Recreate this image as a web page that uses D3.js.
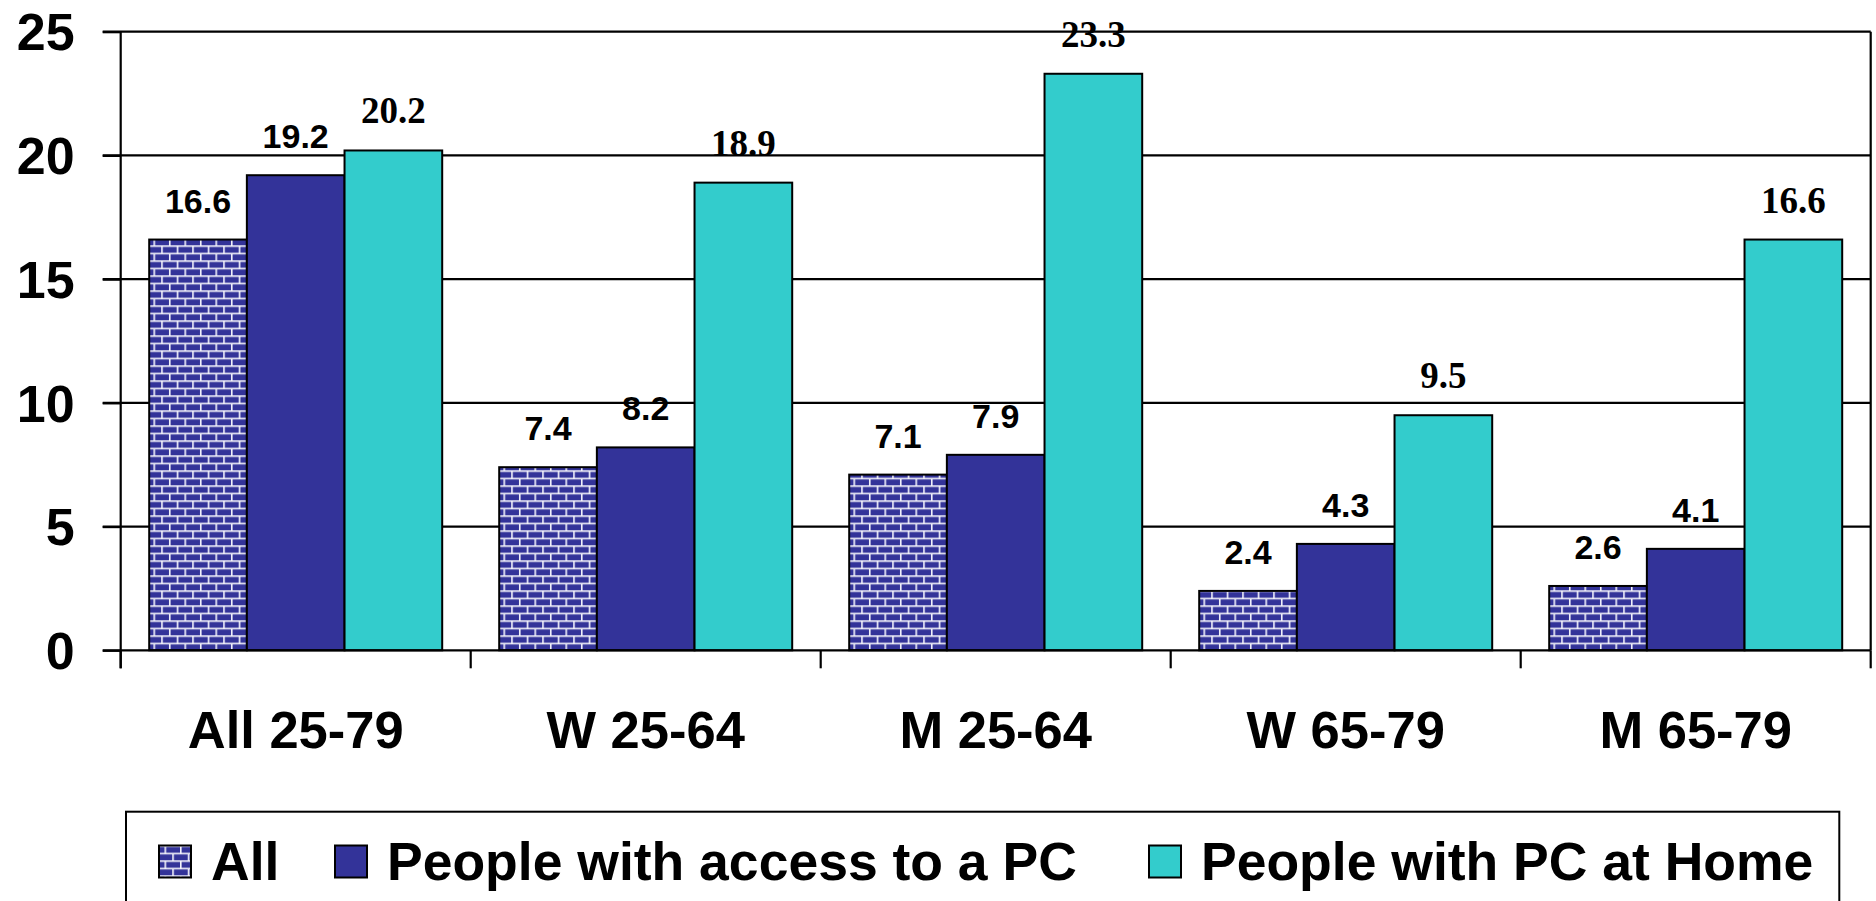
<!DOCTYPE html>
<html>
<head>
<meta charset="utf-8">
<script src="https://cdn.jsdelivr.net/npm/d3@7"></script>
<style>
  html, body { margin: 0; padding: 0; background: #fff; overflow: hidden; }
  svg { display: block; }
</style>
</head>
<body>
<svg id="chart" width="1876" height="901"></svg>
<script>
// ---- data ----
const categories = ["All 25-79", "W 25-64", "M 25-64", "W 65-79", "M 65-79"];
const seriesNames = ["All", "People with access to a PC", "People with PC at Home"];
const allValues = [16.6, 7.4, 7.1, 2.4, 2.6];
const accessValues = [19.2, 8.2, 7.9, 4.3, 4.1];
const homeValues = [20.2, 18.9, 23.3, 9.5, 16.6];
const yTicks = [0, 5, 10, 15, 20, 25];

// ---- layout ----
const W = 1876, H = 901;
const plotLeft = 120.7, plotRight = 1870.7, plotTop = 31.7, plotBottom = 650.3;
const tickLen = 18;
const sansFont = "'Liberation Sans', Arial, sans-serif";
const serifFont = "'Liberation Serif', 'Times New Roman', serif";
const blue = "#333399", teal = "#33CCCC";

const svg = d3.select("#chart");
const defs = svg.append("defs");

// brick pattern
const pat = defs.append("pattern")
  .attr("id", "brick")
  .attr("patternUnits", "userSpaceOnUse")
  .attr("x", 149).attr("y", plotBottom)
  .attr("width", 15.5).attr("height", 15);
pat.append("rect").attr("width", 15.5).attr("height", 15).attr("fill", blue);
pat.append("g").attr("stroke", "#f4f4fb").attr("stroke-width", 1.6).call(g => {
  g.append("line").attr("x1", 0).attr("x2", 15.5).attr("y1", 0.8).attr("y2", 0.8);
  g.append("line").attr("x1", 0).attr("x2", 15.5).attr("y1", 8.3).attr("y2", 8.3);
  g.append("line").attr("x1", 0.8).attr("x2", 0.8).attr("y1", 0).attr("y2", 8.3);
  g.append("line").attr("x1", 8.55).attr("x2", 8.55).attr("y1", 8.3).attr("y2", 15);
});

const series = [
  { name: seriesNames[0], values: allValues, fill: "url(#brick)", font: sansFont, size: 34 },
  { name: seriesNames[1], values: accessValues, fill: blue, font: sansFont, size: 34 },
  { name: seriesNames[2], values: homeValues, fill: teal, font: serifFont, size: 37 }
];

const y = d3.scaleLinear().domain([0, 25]).range([plotBottom, plotTop]);
const x0 = d3.scaleBand().domain(categories).range([plotLeft, plotRight]).padding(0);
const x1 = d3.scaleBand().domain(seriesNames).range([28.5, x0.bandwidth() - 28.5]).padding(0);

// gridlines
svg.append("g")
  .selectAll("line").data(yTicks.filter(t => t > 0)).join("line")
  .attr("x1", plotLeft - tickLen).attr("x2", plotRight)
  .attr("y1", d => y(d)).attr("y2", d => y(d))
  .attr("stroke", "#000").attr("stroke-width", 2.2);

// right border
svg.append("line")
  .attr("x1", plotRight).attr("x2", plotRight)
  .attr("y1", plotTop).attr("y2", plotBottom)
  .attr("stroke", "#000").attr("stroke-width", 2.2);

// bars
const groups = svg.append("g").selectAll("g").data(categories).join("g")
  .attr("transform", d => `translate(${x0(d)},0)`);

groups.each(function(cat, ci) {
  const g = d3.select(this);
  series.forEach(s => {
    const v = s.values[ci];
    g.append("rect")
      .attr("x", x1(s.name))
      .attr("y", y(v))
      .attr("width", x1.bandwidth())
      .attr("height", y(0) - y(v))
      .attr("fill", s.fill)
      .attr("stroke", "#000").attr("stroke-width", 2);
    g.append("text")
      .attr("x", x1(s.name) + x1.bandwidth() / 2)
      .attr("y", y(v) - 27)
      .attr("text-anchor", "middle")
      .attr("font-family", s.font)
      .attr("font-weight", "bold")
      .attr("font-size", s.size)
      .attr("fill", "#000")
      .text(v.toFixed(1));
  });
});

// y axis
const yAxis = d3.axisLeft(y).tickValues(yTicks).tickSize(tickLen).tickPadding(28).tickFormat(d3.format("d"));
const yG = svg.append("g").attr("transform", `translate(${plotLeft},0)`).call(yAxis);
yG.select(".domain").remove();
yG.selectAll(".tick line").attr("stroke", "#000").attr("stroke-width", 2.2);
yG.selectAll(".tick text")
  .attr("font-family", sansFont).attr("font-weight", "bold").attr("font-size", 52)
  .attr("fill", "#000").attr("dy", "0.35em");
svg.append("line")
  .attr("x1", plotLeft).attr("x2", plotLeft)
  .attr("y1", plotTop).attr("y2", plotBottom + tickLen)
  .attr("stroke", "#000").attr("stroke-width", 2.2);

// x axis
svg.append("line")
  .attr("x1", plotLeft - tickLen).attr("x2", plotRight)
  .attr("y1", plotBottom).attr("y2", plotBottom)
  .attr("stroke", "#000").attr("stroke-width", 2.2);
const boundaries = categories.map(c => x0(c)).concat([x0(categories[categories.length - 1]) + x0.bandwidth()]);
svg.append("g").selectAll("line").data(boundaries).join("line")
  .attr("x1", d => d).attr("x2", d => d)
  .attr("y1", plotBottom).attr("y2", plotBottom + tickLen)
  .attr("stroke", "#000").attr("stroke-width", 2.2);
svg.append("g").selectAll("text").data(categories).join("text")
  .attr("x", d => x0(d) + x0.bandwidth() / 2)
  .attr("y", 748)
  .attr("text-anchor", "middle")
  .attr("font-family", sansFont).attr("font-weight", "bold").attr("font-size", 52.5)
  .attr("fill", "#000")
  .text(d => d);

// legend
const legend = svg.append("g");
legend.append("rect")
  .attr("x", 126).attr("y", 811.7).attr("width", 1839.3 - 126).attr("height", 140)
  .attr("fill", "#fff").attr("stroke", "#000").attr("stroke-width", 2);
const swatchX = [159, 335, 1149];
series.forEach((s, i) => {
  legend.append("rect")
    .attr("x", swatchX[i]).attr("y", 845.5)
    .attr("width", 32).attr("height", 32)
    .attr("fill", s.fill).attr("stroke", "#000").attr("stroke-width", 2);
  legend.append("text")
    .attr("x", swatchX[i] + 52).attr("y", 880)
    .attr("font-family", sansFont).attr("font-weight", "bold").attr("font-size", 53.5)
    .attr("fill", "#000")
    .text(s.name);
});
</script>
</body>
</html>
